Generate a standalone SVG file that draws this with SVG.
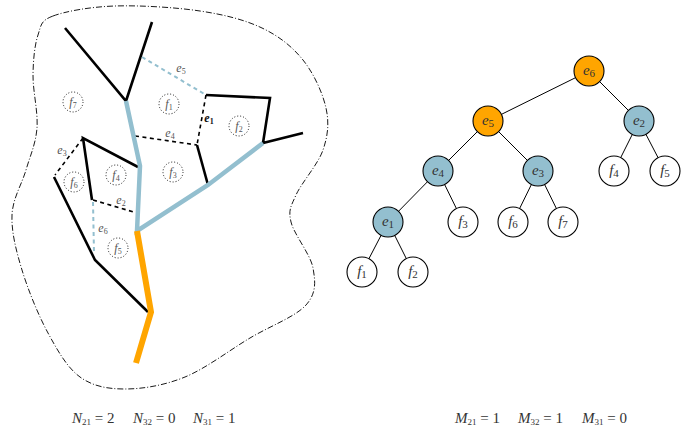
<svg xmlns="http://www.w3.org/2000/svg" width="699" height="432" viewBox="0 0 699 432">
<style>
.bnd{fill:none;stroke:#000;stroke-width:0.9;stroke-dasharray:6 2 1 2}
.solid{fill:none;stroke:#000;stroke-width:2.6;stroke-linejoin:miter;stroke-linecap:butt}
.dash{fill:none;stroke:#000;stroke-width:1.6;stroke-dasharray:4 3.5}
.bdash{fill:none;stroke:#93bfcf;stroke-width:2;stroke-dasharray:4 3.5}
.blue{fill:none;stroke:#93bfcf;stroke-width:4.5;stroke-linejoin:miter}
.orange{fill:none;stroke:#ffa500;stroke-width:6;stroke-linejoin:miter}
.face{fill:none;stroke:#000;stroke-width:0.9;stroke-dasharray:1 2}
.lbl{font-family:"Liberation Serif",serif;font-style:italic;font-size:12px;fill:#555;text-anchor:middle}
.sub{font-size:8px;font-style:normal}
.tedge{stroke:#000;stroke-width:1}
.node{stroke:#000;stroke-width:1.1}
.or{fill:#ffa500}
.bl{fill:#93bfcf}
.wh{fill:#fff}
.nt{font-family:"Liberation Serif",serif;font-style:italic;font-size:15px;fill:#333;text-anchor:middle}
.ns{font-size:11px;font-style:normal}
.eq{font-family:"Liberation Serif",serif;font-size:15px;fill:#333}
.eqs{font-size:9px}
</style>
<path class="bnd" d="M53,16 C65.8,11.2 90.5,6.8 115,6 C139.5,5.2 175.5,7.3 200,11 C224.5,14.7 244.8,19.8 262,28 C279.2,36.2 292.3,46.7 303,60 C313.7,73.3 322.7,93 326,108 C329.3,123 328,135.5 323,150 C318,164.5 301.3,183 296,195 C290.7,207 288.2,209.8 291,222 C293.8,234.2 310.5,254.2 313,268 C315.5,281.8 316.5,293.3 306,305 C295.5,316.7 270.2,326 250,338 C229.8,350 205.8,368.5 185,377 C164.2,385.5 142.5,389 125,389 C107.5,389 92.8,386.3 80,377 C67.2,367.7 57.7,350.8 48,333 C38.3,315.2 28,289.7 22,270 C16,250.3 11.3,231.7 12,215 C12.7,198.3 21.8,184.5 26,170 C30.2,155.5 35.8,143.8 37,128 C38.2,112.2 32.8,90.5 33,75 C33.2,59.5 34.7,44.8 38,35 C41.3,25.2 40.2,20.8 53,16 Z"/>
<g id="plan">
<polyline class="solid" points="65,28 126,101 152,22"/>
<polyline class="solid" points="206,95 270,98 263,143 303,133"/>
<polyline class="solid" points="197,145 208,185"/>
<polyline class="solid" points="138,167 83,138 92,200"/>
<polyline class="solid" points="54,177 95,260 148,312"/>
<line class="dash" x1="206" y1="95" x2="197" y2="145"/>
<line class="dash" x1="135" y1="136" x2="197" y2="145"/>
<line class="dash" x1="83" y1="138" x2="55" y2="175"/>
<line class="dash" x1="93" y1="200" x2="137" y2="213"/>
<line class="bdash" x1="142" y1="57" x2="206" y2="95"/>
<line class="bdash" x1="93" y1="202" x2="94" y2="253"/>
<polyline class="blue" points="263,143 208,185 137,231 140,166 126,101"/>
<polyline class="orange" points="137,231 151,312 136,363"/>
<circle class="face" cx="73" cy="102" r="10"/>
<circle class="face" cx="169" cy="104" r="10"/>
<circle class="face" cx="239" cy="126" r="10"/>
<circle class="face" cx="116" cy="175" r="10"/>
<circle class="face" cx="173" cy="172" r="10"/>
<circle class="face" cx="74" cy="182" r="10"/>
<circle class="face" cx="118" cy="248" r="10"/>
<text class="lbl" x="73" y="106">f<tspan class="sub" dy="2">7</tspan></text>
<text class="lbl" x="169" y="108">f<tspan class="sub" dy="2">1</tspan></text>
<text class="lbl" x="239" y="130">f<tspan class="sub" dy="2">2</tspan></text>
<text class="lbl" x="116" y="179">f<tspan class="sub" dy="2">4</tspan></text>
<text class="lbl" x="173" y="176">f<tspan class="sub" dy="2">3</tspan></text>
<text class="lbl" x="74" y="186">f<tspan class="sub" dy="2">6</tspan></text>
<text class="lbl" x="118" y="252">f<tspan class="sub" dy="2">5</tspan></text>
<text class="lbl" x="181" y="72">e<tspan class="sub" dy="2">5</tspan></text>
<text class="lbl" x="209" y="122" style="fill:#111;font-weight:bold">e<tspan class="sub" dy="2">1</tspan></text>
<text class="lbl" x="170" y="137">e<tspan class="sub" dy="2">4</tspan></text>
<text class="lbl" x="62" y="154">e<tspan class="sub" dy="2">3</tspan></text>
<text class="lbl" x="121" y="204">e<tspan class="sub" dy="2">2</tspan></text>
<text class="lbl" x="103" y="232">e<tspan class="sub" dy="2">6</tspan></text>
</g>
<g id="connectors">
<line class="tedge" x1="589" y1="71" x2="488" y2="121"/>
<line class="tedge" x1="589" y1="71" x2="639" y2="121"/>
<line class="tedge" x1="488" y1="121" x2="438" y2="171"/>
<line class="tedge" x1="488" y1="121" x2="538" y2="171"/>
<line class="tedge" x1="639" y1="121" x2="614" y2="171"/>
<line class="tedge" x1="639" y1="121" x2="665" y2="171"/>
<line class="tedge" x1="438" y1="171" x2="388" y2="222"/>
<line class="tedge" x1="438" y1="171" x2="463" y2="222"/>
<line class="tedge" x1="538" y1="171" x2="513" y2="222"/>
<line class="tedge" x1="538" y1="171" x2="563" y2="222"/>
<line class="tedge" x1="388" y1="222" x2="362" y2="272"/>
<line class="tedge" x1="388" y1="222" x2="413" y2="272"/>
</g>
<g id="n-e6"><circle class="node or" cx="589" cy="71" r="15"/><text class="nt" x="589" y="75">e<tspan class="ns" dy="2">6</tspan></text></g>
<g id="n-e5"><circle class="node or" cx="488" cy="121" r="15"/><text class="nt" x="488" y="125">e<tspan class="ns" dy="2">5</tspan></text></g>
<g id="n-e2"><circle class="node bl" cx="639" cy="121" r="15"/><text class="nt" x="639" y="125">e<tspan class="ns" dy="2">2</tspan></text></g>
<g id="n-e4"><circle class="node bl" cx="438" cy="171" r="15"/><text class="nt" x="438" y="175">e<tspan class="ns" dy="2">4</tspan></text></g>
<g id="n-e3"><circle class="node bl" cx="538" cy="171" r="15"/><text class="nt" x="538" y="175">e<tspan class="ns" dy="2">3</tspan></text></g>
<g id="n-f4"><circle class="node wh" cx="614" cy="171" r="15"/><text class="nt" x="614" y="175">f<tspan class="ns" dy="2">4</tspan></text></g>
<g id="n-f5"><circle class="node wh" cx="665" cy="171" r="15"/><text class="nt" x="665" y="175">f<tspan class="ns" dy="2">5</tspan></text></g>
<g id="n-e1"><circle class="node bl" cx="388" cy="222" r="15"/><text class="nt" x="388" y="226">e<tspan class="ns" dy="2">1</tspan></text></g>
<g id="n-f3"><circle class="node wh" cx="463" cy="222" r="15"/><text class="nt" x="463" y="226">f<tspan class="ns" dy="2">3</tspan></text></g>
<g id="n-f6"><circle class="node wh" cx="513" cy="222" r="15"/><text class="nt" x="513" y="226">f<tspan class="ns" dy="2">6</tspan></text></g>
<g id="n-f7"><circle class="node wh" cx="563" cy="222" r="15"/><text class="nt" x="563" y="226">f<tspan class="ns" dy="2">7</tspan></text></g>
<g id="n-f1"><circle class="node wh" cx="362" cy="272" r="15"/><text class="nt" x="362" y="276">f<tspan class="ns" dy="2">1</tspan></text></g>
<g id="n-f2"><circle class="node wh" cx="413" cy="272" r="15"/><text class="nt" x="413" y="276">f<tspan class="ns" dy="2">2</tspan></text></g>
<g id="eqN">
<text class="eq" x="72" y="423"><tspan font-style="italic">N</tspan><tspan class="eqs" dy="2">21</tspan><tspan dy="-2"> = 2</tspan></text>
<text class="eq" x="133" y="423"><tspan font-style="italic">N</tspan><tspan class="eqs" dy="2">32</tspan><tspan dy="-2"> = 0</tspan></text>
<text class="eq" x="193" y="423"><tspan font-style="italic">N</tspan><tspan class="eqs" dy="2">31</tspan><tspan dy="-2"> = 1</tspan></text>
</g>
<g id="eqM">
<text class="eq" x="455" y="423"><tspan font-style="italic">M</tspan><tspan class="eqs" dy="2">21</tspan><tspan dy="-2"> = 1</tspan></text>
<text class="eq" x="518" y="423"><tspan font-style="italic">M</tspan><tspan class="eqs" dy="2">32</tspan><tspan dy="-2"> = 1</tspan></text>
<text class="eq" x="582" y="423"><tspan font-style="italic">M</tspan><tspan class="eqs" dy="2">31</tspan><tspan dy="-2"> = 0</tspan></text>
</g>
</svg>
